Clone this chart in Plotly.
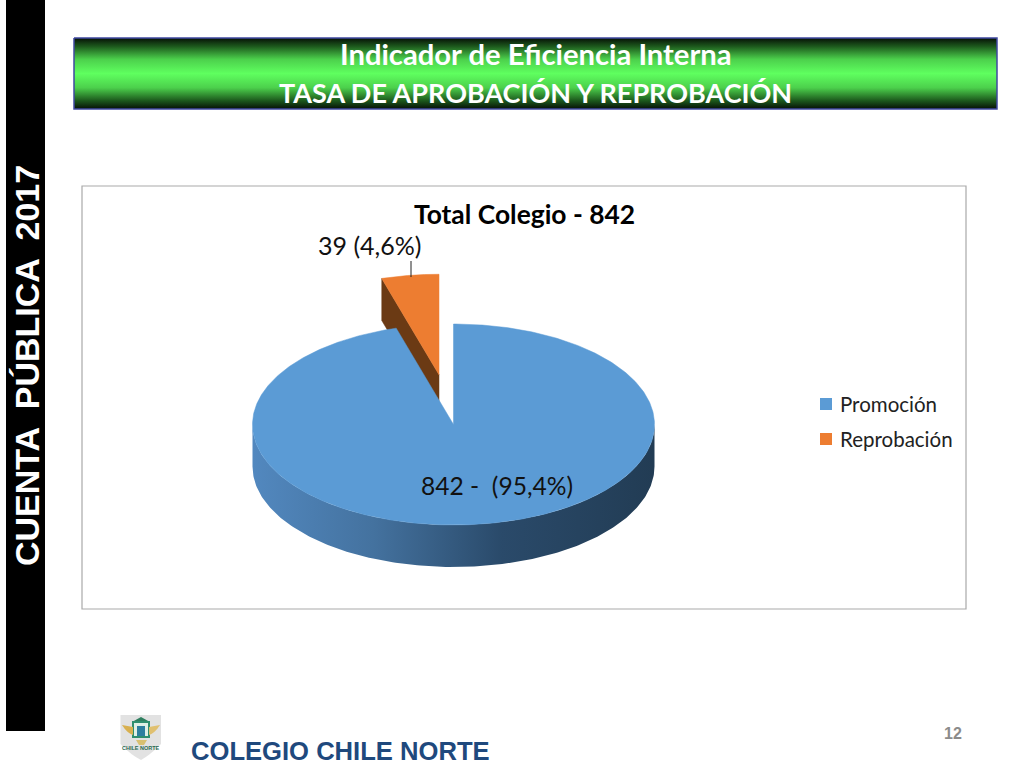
import numpy as np
import plotly.graph_objects as go

# data
categories = ['Promoción', 'Reprobación']
percents = [95.4, 4.6]
point_labels = ['842 -  (95,4%)', '39 (4,6%)']
explode = [0, 0.5]
pie_title = 'Total Colegio - 842'
header_lines = ['Indicador de Eficiencia Interna', 'TASA DE APROBACIÓN Y REPROBACIÓN']
side_text = 'CUENTA  PÚBLICA  2017'
footer_text = 'COLEGIO CHILE NORTE'
page_number = '12'

# pie geometry, in page pixels
cx, cy = 453.5, 424.5
rx, ry = 201, 100.5
depth = 42

BLUE = '#5b9bd5'
ORANGE = '#ed7d31'
BROWN = '#6b3a14'
WALL_SCALE = [[0, '#5288bf'], [0.3, '#44729f'], [0.62, '#2a4a6a'], [1, '#223c54']]
HEADER_SCALE = [[0, '#061006'], [0.12, '#1d5a1d'], [0.3, '#4cd04c'], [0.5, '#5fff5f'],
                [0.7, '#4cd04c'], [0.88, '#1d5a1d'], [1, '#061006']]


def arc(t0, t1, dx=0, dy=0, n=200):
    # degrees clockwise from 12 o'clock
    t = np.radians(np.linspace(t0, t1, n))
    return cx + dx + rx * np.sin(t), cy + dy - ry * np.cos(t)


def explode_offset(t0, t1, e):
    mid = np.radians((t0 + t1) / 2)
    return e * rx * np.sin(mid), -e * ry * np.cos(mid)


blue_end = percents[0] / 100 * 360
orange_start, orange_end = blue_end, 360
dx, dy = explode_offset(orange_start, orange_end, explode[1])

fig = go.Figure()

# header band
fig.add_trace(go.Scatter(x=[74, 997, 997, 74, 74], y=[38, 38, 109, 109, 38], mode='lines', fill='toself',
                         line=dict(color='#3f48a0', width=1.5),
                         fillgradient=dict(type='vertical', colorscale=HEADER_SCALE, start=38, stop=109),
                         hoverinfo='skip', showlegend=False))

# orange slice: cut face then top
ax, ay = arc(orange_start, orange_start, dx, dy, 1)
fx = [cx + dx, ax[0], ax[0], cx + dx, cx + dx]
fy = [cy + dy, ay[0], ay[0] + depth, cy + dy + depth, cy + dy]
fig.add_trace(go.Scatter(x=fx, y=fy, mode='lines', fill='toself', fillcolor=BROWN, line=dict(color=BROWN, width=0.5),
                         hoverinfo='skip', showlegend=False))
ox, oy = arc(orange_start, orange_end, dx, dy)
fig.add_trace(go.Scatter(x=np.r_[cx + dx, ox, cx + dx], y=np.r_[cy + dy, oy, cy + dy], mode='lines', fill='toself',
                         fillcolor=ORANGE, line=dict(color=ORANGE, width=0.5), hoverinfo='skip', showlegend=False))

# blue slice: front wall then top
wx, wy = arc(90, 270)
fig.add_trace(go.Scatter(x=np.r_[wx, wx[::-1], wx[0]], y=np.r_[wy, wy[::-1] + depth, wy[0]], mode='lines', fill='toself',
                         line=dict(width=0, color='#2a4a6a'),
                         fillgradient=dict(type='horizontal', colorscale=WALL_SCALE,
                                           start=cx - rx, stop=cx + rx),
                         hoverinfo='skip', showlegend=False))
bx, by = arc(0, blue_end, n=500)
fig.add_trace(go.Scatter(x=np.r_[cx, bx, cx], y=np.r_[cy, by, cy], mode='lines', fill='toself',
                         fillcolor=BLUE, line=dict(color=BLUE, width=0.5), hoverinfo='skip', showlegend=False))

# leader line
fig.add_trace(go.Scatter(x=[411, 411], y=[261, 277], mode='lines', line=dict(color='#222222', width=1),
                         hoverinfo='skip', showlegend=False))

# legend keys
legend_y = [404, 439]
for name, color, y in zip(categories, [BLUE, ORANGE], legend_y):
    fig.add_trace(go.Scatter(x=[826], y=[y], mode='markers', name=name,
                             marker=dict(symbol='square', size=12, color=color), hoverinfo='skip', showlegend=False))

shapes = [
    dict(type='rect', x0=6, x1=45, y0=0, y1=731, fillcolor='black', line_width=0, layer='below'),
    dict(type='rect', x0=82, x1=966, y0=186, y1=609, fillcolor='white', line=dict(color='#a9a9a9', width=1.2), layer='below'),
    # logo
    dict(type='path', path='M120.5,715 L161,715 L161,744 Q150,755 141,760 Q131,755 120.5,744 Z',
         fillcolor='#e2e2e2', line_width=0),
    dict(type='path', path='M132,722 L141,717 L150,722 Z', fillcolor='#2f7f5f', line_width=0),
    dict(type='rect', x0=133, x1=149, y0=722, y1=737, fillcolor='#dff0e6', line=dict(color='#2f8f6f', width=2)),
    dict(type='rect', x0=137, x1=145, y0=726, y1=736, fillcolor='#2d7f9f', line_width=0),
    dict(type='path', path='M122,725 L133,727 L133,735 Q127,733 122,725 Z', fillcolor='#d8b050', line_width=0),
    dict(type='path', path='M160,725 L149,727 L149,735 Q155,733 160,725 Z', fillcolor='#e0c070', line_width=0),
    dict(type='path', path='M136,740 L147,740 L144,745 L139,745 Z', fillcolor='#d8c070', line_width=0),
]

annotations = []


def add_text(x, y, text, size, color='black', family='Lato', bold=False, angle=0, anchor='center'):
    annotations.append(dict(x=x, y=y, xref='x', yref='y', text=f'<b>{text}</b>' if bold else text, showarrow=False,
                            textangle=angle, xanchor=anchor, yanchor='middle',
                            font=dict(size=size, color=color, family=family)))


add_text(535.5, 53.5, header_lines[0], 29.2, color='white', bold=True)
add_text(535, 92, header_lines[1], 27, color='white', bold=True)
add_text(27, 366, side_text, 34, color='white', family='Liberation Sans', bold=True, angle=-90)
add_text(524, 214, pie_title, 26.4, bold=True)
add_text(369, 245, point_labels[1], 25, color='#111111')
add_text(496.5, 485, point_labels[0], 24.6, color='#111111')
add_text(340.5, 751, footer_text, 25.6, color='#1f497d', family='Liberation Sans', bold=True)
add_text(953, 733, page_number, 16, color='#8b8b8b', family='Liberation Sans', bold=True)
add_text(141, 748, 'CHILE NORTE', 5.5, color='#2a6a50', family='Liberation Sans', bold=True)
for name, y in zip(categories, legend_y):
    add_text(838, y, name, 20.5, color='#222222', anchor='left')

fig.update_layout(
    width=1024, height=768, margin=dict(l=0, r=0, t=0, b=0),
    paper_bgcolor='white', plot_bgcolor='white',
    xaxis=dict(range=[0, 1024], visible=False, fixedrange=True),
    yaxis=dict(range=[768, 0], visible=False, fixedrange=True),
    shapes=shapes, annotations=annotations,
)

# the page's default body margin would push everything 8px off
fig.write_html('out.html', config=dict(displayModeBar=False),
               post_script="document.body.style.margin='0';document.body.style.overflow='hidden';")
